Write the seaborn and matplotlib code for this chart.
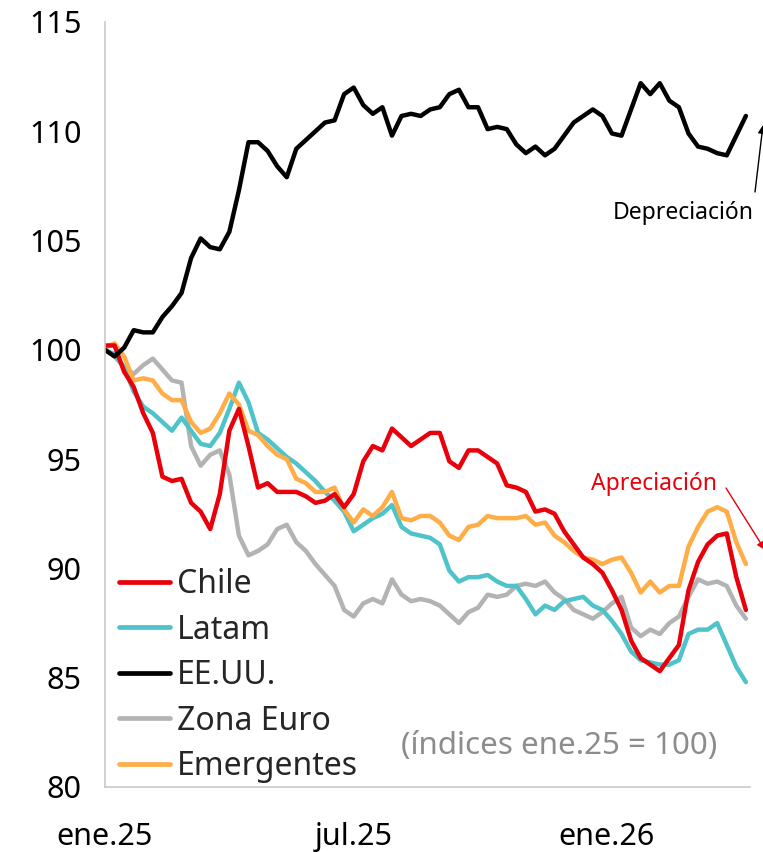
import numpy as np
import pandas as pd
import matplotlib
matplotlib.use("Agg")
import matplotlib.pyplot as plt
import matplotlib.dates as mdates
import seaborn as sns

# ---------------- data (índices ene.25 = 100) ----------------
fechas = pd.date_range("2025-01-01", "2026-04-12", periods=68)

chile = [100.2, 100.2, 99.0, 98.3, 97.1, 96.2, 94.2, 94.0, 94.1, 93.0,
         92.6, 91.8, 93.4, 96.3, 97.3, 95.6, 93.7, 93.9, 93.5, 93.5,
         93.5, 93.3, 93.0, 93.1, 93.4, 92.8, 93.4, 94.9, 95.6, 95.4,
         96.4, 96.0, 95.6, 95.9, 96.2, 96.2, 94.9, 94.6, 95.4, 95.4,
         95.1, 94.8, 93.8, 93.7, 93.5, 92.6, 92.7, 92.5, 91.7, 91.1,
         90.5, 90.2, 89.8, 89.0, 88.1, 86.7, 85.9, 85.6, 85.3, 85.9,
         86.5, 89.0, 90.3, 91.1, 91.5, 91.6, 89.6, 88.1]

latam = [100.0, 99.8, 99.2, 98.1, 97.4, 97.1, 96.7, 96.3, 96.9, 96.3,
         95.7, 95.6, 96.2, 97.3, 98.5, 97.6, 96.2, 95.9, 95.5, 95.1,
         94.8, 94.4, 94.0, 93.5, 93.1, 92.6, 91.7, 92.0, 92.3, 92.5,
         92.9, 91.9, 91.6, 91.5, 91.4, 91.1, 89.9, 89.4, 89.6, 89.6,
         89.7, 89.4, 89.2, 89.2, 88.6, 87.9, 88.3, 88.1, 88.5, 88.6,
         88.7, 88.3, 88.1, 87.6, 87.0, 86.2, 85.8, 85.7, 85.6, 85.6,
         85.8, 87.0, 87.2, 87.2, 87.5, 86.5, 85.5, 84.8]

eeuu = [100.0, 99.7, 100.1, 100.9, 100.8, 100.8, 101.5, 102.0, 102.6, 104.2,
        105.1, 104.7, 104.6, 105.4, 107.3, 109.5, 109.5, 109.1, 108.4, 107.9,
        109.2, 109.6, 110.0, 110.4, 110.5, 111.7, 112.0, 111.2, 110.8, 111.1,
        109.8, 110.7, 110.8, 110.7, 111.0, 111.1, 111.7, 111.9, 111.1, 111.1,
        110.1, 110.2, 110.1, 109.4, 109.0, 109.3, 108.9, 109.2, 109.8, 110.4,
        110.7, 111.0, 110.7, 109.9, 109.8, 111.0, 112.2, 111.7, 112.2, 111.4,
        111.1, 109.9, 109.3, 109.2, 109.0, 108.9, 109.8, 110.7]

zona_euro = [100.0, 99.7, 99.2, 98.9, 99.3, 99.6, 99.1, 98.6, 98.5, 95.6,
             94.7, 95.2, 95.4, 94.3, 91.5, 90.6, 90.8, 91.1, 91.8, 92.0,
             91.2, 90.8, 90.2, 89.7, 89.2, 88.1, 87.8, 88.4, 88.6, 88.4,
             89.5, 88.8, 88.5, 88.6, 88.5, 88.3, 87.9, 87.5, 88.0, 88.2,
             88.8, 88.7, 88.8, 89.2, 89.3, 89.2, 89.4, 88.9, 88.6, 88.1,
             87.9, 87.7, 88.0, 88.4, 88.7, 87.3, 86.9, 87.2, 87.0, 87.5,
             87.8, 88.7, 89.5, 89.3, 89.4, 89.2, 88.3, 87.7]

emergentes = [100.1, 100.3, 99.7, 98.6, 98.7, 98.6, 98.0, 97.7, 97.7, 96.7,
              96.2, 96.4, 97.1, 98.0, 97.5, 96.3, 96.1, 95.6, 95.2, 95.0,
              94.1, 93.9, 93.5, 93.5, 93.7, 92.7, 92.1, 92.7, 92.4, 92.8,
              93.5, 92.3, 92.2, 92.4, 92.4, 92.1, 91.5, 91.3, 91.9, 92.0,
              92.4, 92.3, 92.3, 92.3, 92.4, 92.0, 92.1, 91.5, 91.2, 90.8,
              90.5, 90.4, 90.2, 90.4, 90.5, 89.8, 88.9, 89.4, 88.9, 89.2,
              89.2, 91.0, 91.9, 92.6, 92.8, 92.6, 91.2, 90.2]

series = ["Chile", "Latam", "EE.UU.", "Zona Euro", "Emergentes"]
colores = ["#E8000B", "#4EC3CA", "#000000", "#B3B3B3", "#FFAD47"]
y_ticks = [80, 85, 90, 95, 100, 105, 110, 115]
x_ticks = ["2025-01-01", "2025-07-01", "2026-01-01"]
x_labels = ["ene.25", "jul.25", "ene.26"]

df = pd.concat([
    pd.DataFrame({"fecha": fechas, "valor": vals, "serie": name})
    for name, vals in zip(series, [chile, latam, eeuu, zona_euro, emergentes])
])

# ---------------- figure ----------------
sns.set_theme(style="white")
plt.rcParams["font.family"] = ["Noto Sans", "DejaVu Sans"]

fig = plt.figure(figsize=(7.63, 8.52), dpi=100)
ax = fig.add_axes([105 / 763, 1 - 787 / 852, 645 / 763, 765 / 852])

draw_order = ["Zona Euro", "Latam", "Emergentes", "Chile", "EE.UU."]
pal = dict(zip(series, colores))
for name in draw_order:
    sns.lineplot(data=df[df.serie == name], x="fecha", y="valor",
                 color=pal[name], lw=3.2, ax=ax, legend=False)

ax.set_ylim(80, 115)
ax.set_xlim(pd.Timestamp("2025-01-01"), pd.Timestamp("2026-04-15"))
ax.set_yticks(y_ticks)
ax.set_xticks([pd.Timestamp(t) for t in x_ticks])
ax.set_xticklabels(x_labels)
ax.set_xlabel("")
ax.set_ylabel("")

for s in ["top", "right"]:
    ax.spines[s].set_visible(False)
for s in ["left", "bottom"]:
    ax.spines[s].set_color("#C8C8C8")
    ax.spines[s].set_linewidth(1.2)
ax.tick_params(axis="both", which="both", direction="out", length=8,
               width=1.2, color="#C8C8C8", labelsize=22, labelcolor="black")
ax.tick_params(axis="y", pad=9)
ax.tick_params(axis="x", pad=17)

# legend
from matplotlib.lines import Line2D
handles = [Line2D([0], [0], color=c, lw=3.4) for c in colores]
leg = ax.legend(handles, series, loc="upper left",
                bbox_to_anchor=(0.022, 0.286), frameon=False,
                fontsize=23, handlelength=1.6, handletextpad=0.2,
                labelspacing=0.39, borderpad=0, borderaxespad=0)

# annotations
ax.text(0.950, 0.054, "(índices ene.25 = 100)", transform=ax.transAxes,
        ha="right", va="center", fontsize=22.5, color="#8C8C8C")

fig.text(754 / 763, 1 - 213 / 852, "Depreciación", ha="right", va="center",
         fontsize=16.5, color="black")
fig.text(717 / 763, 1 - 484 / 852, "Apreciación", ha="right", va="center",
         fontsize=16.5, color="#E8000B")

ax.annotate("", xy=(763 / 763, 1 - 125 / 852), xycoords="figure fraction",
            xytext=(755 / 763, 1 - 192 / 852), textcoords="figure fraction",
            arrowprops=dict(arrowstyle="-|>", color="black", lw=1.0,
                            mutation_scale=12, shrinkA=0, shrinkB=0),
            annotation_clip=False)
ax.annotate("", xy=(765 / 763, 1 - 550 / 852), xycoords="figure fraction",
            xytext=(726 / 763, 1 - 488 / 852), textcoords="figure fraction",
            arrowprops=dict(arrowstyle="-|>", color="#E8000B", lw=1.0,
                            mutation_scale=12, shrinkA=0, shrinkB=0),
            annotation_clip=False)

fig.savefig("out.png", dpi=100, facecolor="white")
